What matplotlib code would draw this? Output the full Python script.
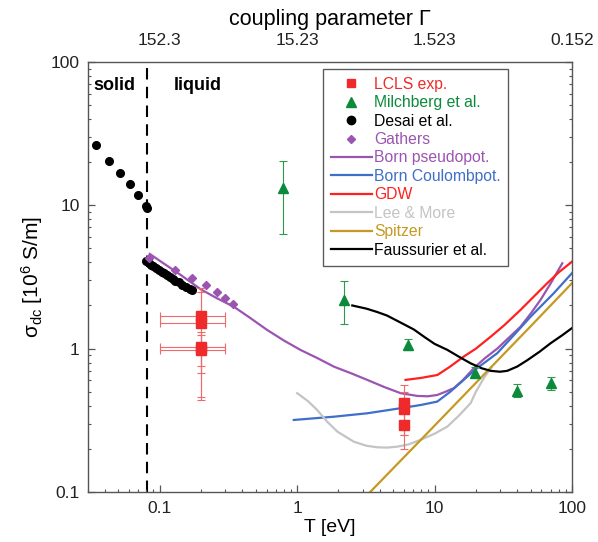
import numpy as np
import matplotlib
matplotlib.use("Agg")
from matplotlib import pyplot as plt
from matplotlib.lines import Line2D
from matplotlib.ticker import FixedLocator, NullFormatter, LogLocator

plt.rcParams['font.family'] = ['Liberation Sans', 'DejaVu Sans']
plt.rcParams['mathtext.fontset'] = 'custom'
plt.rcParams['mathtext.rm'] = 'Liberation Sans'
plt.rcParams['mathtext.it'] = 'Liberation Sans:italic'

# ---- data (T in eV, sigma in 10^6 S/m) ----
desai_T = [0.0344, 0.043, 0.0518, 0.0605, 0.0692, 0.0791, 0.081,
           0.080, 0.083, 0.087, 0.090, 0.094, 0.098, 0.103, 0.108, 0.113,
           0.118, 0.124, 0.130, 0.137, 0.145, 0.155, 0.165, 0.172]
desai_s = [26.4, 20.4, 16.8, 14.0, 11.8, 9.9, 9.6,
           4.09, 3.95, 3.85, 3.75, 3.63, 3.55, 3.45, 3.35, 3.25,
           3.15, 3.06, 2.98, 2.90, 2.80, 2.70, 2.62, 2.56]

gathers_T = [0.0832, 0.1286, 0.173, 0.216, 0.259, 0.301, 0.342]
gathers_s = [4.32, 3.56, 3.13, 2.77, 2.48, 2.24, 2.06]

lcls_T = [0.2, 0.2, 0.2, 0.2, 6.0, 6.0, 6.0]
lcls_s = [1.68, 1.52, 1.02, 0.98, 0.416, 0.378, 0.294]
lcls_lo = [0.46, 0.44, 0.76, 0.68, 0.25, 0.25, 0.199]
lcls_hi = [2.64, 2.50, 1.30, 1.25, 0.557, 0.50, 0.38]
lcls_Tlo = [0.1, 0.1, 0.1, 0.1, 6.0, 6.0, 6.0]
lcls_Thi = [0.3, 0.3, 0.3, 0.3, 6.0, 6.0, 6.0]

milch_T = [0.786, 2.21, 6.39, 19.6, 40.0, 70.0]
milch_s = [13.2, 2.19, 1.06, 0.68, 0.509, 0.573]
milch_lo = [6.28, 1.48, 0.98, 0.638, 0.463, 0.515]
milch_hi = [20.4, 2.94, 1.17, 0.749, 0.567, 0.63]

born_pseudo_T = [0.0846, 0.1, 0.14, 0.198, 0.26, 0.346, 0.45, 0.605, 0.8, 1.058,
                 1.4, 1.85, 2.5, 3.24, 4.3, 5.66, 7.48, 8.9, 10.46, 12.0, 13.8,
                 16.0, 19.3, 23.0, 28.6, 35.0, 42.2, 50.0, 59.1, 70.0, 85.1]
born_pseudo_s = [4.58, 4.1, 3.3, 2.60, 2.25, 1.96, 1.65, 1.35, 1.14, 0.979,
                 0.86, 0.749, 0.67, 0.605, 0.54, 0.489, 0.468, 0.465, 0.475, 0.50, 0.53,
                 0.60, 0.73, 0.85, 1.0, 1.2, 1.42, 1.75, 2.19, 2.85, 3.94]

born_coul_T = [0.945, 1.85, 3.24, 5.66, 8.0, 10.46, 13.0, 16.3, 20.0, 28.6,
               38.0, 50.0, 73.9, 100]
born_coul_s = [0.318, 0.335, 0.354, 0.384, 0.405, 0.427, 0.50, 0.605, 0.72, 0.929,
               1.25, 1.67, 2.44, 3.36]

gdw_T = [6.15, 8.0, 10.5, 13.0, 16.3, 20.0, 25.6, 32.0, 42.2, 55.0, 66.1, 80.0, 100]
gdw_s = [0.605, 0.625, 0.655, 0.75, 0.88, 1.0, 1.21, 1.45, 1.86, 2.4, 2.86, 3.4, 4.04]

lee_T = [1.0, 1.2, 1.4, 1.65, 1.96, 2.3, 2.59, 3.2, 3.83, 4.5, 5.35, 6.5,
         7.9, 10.0, 12.4, 15.0, 18.3, 20.0, 23.0, 26.0]
lee_s = [0.489, 0.43, 0.373, 0.31, 0.264, 0.24, 0.224, 0.21, 0.205, 0.204, 0.207, 0.215,
         0.231, 0.255, 0.286, 0.34, 0.416, 0.50, 0.63, 0.74]

spitzer_T = [3.3, 6.0, 10.0, 20.0, 50.0, 100]
spitzer_s = [0.097, 0.175, 0.29, 0.577, 1.43, 2.86]

fauss_T = [2.52, 3.2, 3.83, 4.52, 5.66, 7.07, 8.5, 10.0, 12.4, 15.0, 18.3, 22.0,
           25.6, 30.0, 33.8, 40.0, 47.3, 58.0, 69.9, 85.0, 100]
fauss_s = [2.0, 1.9, 1.80, 1.70, 1.52, 1.36, 1.2, 1.08, 0.98, 0.88, 0.79, 0.73,
           0.70, 0.69, 0.70, 0.75, 0.83, 0.95, 1.09, 1.24, 1.39]

T_melt = 0.081
major_T = [0.1, 1, 10, 100]
top_labels = ['152.3', '15.23', '1.523', '0.152']

# ---- colours ----
c_red = '#ee2a2a'
c_err = '#f06a6a'
c_green = '#0b8a3c'
c_purple = '#9b55b0'
c_blue = '#3f6fc8'
c_gdw = '#ff2020'
c_gray = '#c4c4c4'
c_gold = '#c49a22'
c_spine = '#555555'

fig = plt.figure(figsize=(5.98, 5.42), dpi=100)
ax = fig.add_axes([0.147, 0.0923, 0.8094, 0.7934])
ax.set_xscale('log')
ax.set_yscale('log')
ax.set_xlim(0.03, 100)
ax.set_ylim(0.1, 100)

ax.axvline(T_melt, color='black', lw=1.5, ls=(0, (5.5, 3.5)), zorder=1)

# model curves
lw = 1.6
ax.plot(born_pseudo_T, born_pseudo_s, color=c_purple, lw=lw)
ax.plot(born_coul_T, born_coul_s, color=c_blue, lw=lw)
ax.plot(gdw_T, gdw_s, color=c_gdw, lw=lw)
ax.plot(lee_T, lee_s, color=c_gray, lw=lw)
ax.plot(spitzer_T, spitzer_s, color=c_gold, lw=lw)
ax.plot(fauss_T, fauss_s, color='black', lw=lw)

# data points
lcls_s_arr = np.array(lcls_s)
lcls_T_arr = np.array(lcls_T)
ax.errorbar(lcls_T, lcls_s,
            yerr=[lcls_s_arr - np.array(lcls_lo), np.array(lcls_hi) - lcls_s_arr],
            xerr=[lcls_T_arr - np.array(lcls_Tlo), np.array(lcls_Thi) - lcls_T_arr],
            fmt='s', color=c_red, ecolor=c_err, elinewidth=0.8, capsize=3,
            capthick=0.8, ms=6.5, zorder=5)
milch_s_arr = np.array(milch_s)
ax.errorbar(milch_T, milch_s,
            yerr=[milch_s_arr - np.array(milch_lo), np.array(milch_hi) - milch_s_arr],
            fmt='^', color=c_green, ecolor='#2a9a4c', elinewidth=0.8, capsize=3,
            capthick=0.8, ms=7.5, zorder=5)
ax.plot(desai_T, desai_s, 'o', color='black', ms=5.5, zorder=4)
ax.plot(gathers_T, gathers_s, 'D', color=c_purple, ms=4.2, zorder=4)

# axes cosmetics
for sp in ax.spines.values():
    sp.set_color(c_spine)
    sp.set_linewidth(1.0)
ax.xaxis.set_major_locator(FixedLocator(major_T))
ax.set_xticklabels(['0.1', '1', '10', '100'])
ax.yaxis.set_major_locator(FixedLocator([0.1, 1, 10, 100]))
ax.set_yticklabels(['0.1', '1', '10', '100'])
ax.xaxis.set_minor_locator(LogLocator(base=10, subs=np.arange(2, 10)))
ax.yaxis.set_minor_locator(LogLocator(base=10, subs=np.arange(2, 10)))
ax.xaxis.set_minor_formatter(NullFormatter())
ax.yaxis.set_minor_formatter(NullFormatter())
ax.tick_params(which='both', direction='in', top=True, right=True,
               color=c_spine, labelsize=12.5, labelcolor='#222222')
ax.tick_params(which='major', length=5, width=0.9, pad=6.5)
ax.tick_params(which='minor', length=2.5, width=0.8)
ax.tick_params(axis='y', pad=6)

ax2 = ax.twiny()
ax2.set_xscale('log')
ax2.set_xlim(ax.get_xlim())
ax2.xaxis.set_major_locator(FixedLocator(major_T))
ax2.set_xticklabels(top_labels)
ax2.xaxis.set_minor_locator(LogLocator(base=10, subs=np.arange(2, 10)))
ax2.xaxis.set_minor_formatter(NullFormatter())
ax2.tick_params(which='both', direction='in', length=0, labelsize=12.5,
                labelcolor='#222222', pad=10)
for sp in ax2.spines.values():
    sp.set_visible(False)

ax.set_xlabel('T [eV]', fontsize=14, labelpad=2)
ax.set_ylabel(r'σ$_{\rm dc}$ [10$^{6}$ S/m]', fontsize=15, labelpad=4)
ax2.set_xlabel('coupling parameter Γ', fontsize=15.5, labelpad=6)

ax.text(0.033, 68, 'solid', fontsize=13, fontweight='bold', va='center', ha='left')
ax.text(0.1258, 68, 'liquid', fontsize=13, fontweight='bold', va='center', ha='left')

# legend
handles = [
    Line2D([], [], ls='none', marker='s', color=c_red, ms=6),
    Line2D([], [], ls='none', marker='^', color=c_green, ms=7),
    Line2D([], [], ls='none', marker='o', color='black', ms=6),
    Line2D([], [], ls='none', marker='D', color=c_purple, ms=4.2),
    Line2D([], [], color=c_purple, lw=lw),
    Line2D([], [], color=c_blue, lw=lw),
    Line2D([], [], color=c_gdw, lw=lw),
    Line2D([], [], color=c_gray, lw=lw),
    Line2D([], [], color=c_gold, lw=lw),
    Line2D([], [], color='black', lw=lw),
]
labels = ['LCLS exp.', 'Milchberg et al.', 'Desai et al.', 'Gathers',
          'Born pseudopot.', 'Born Coulombpot.', 'GDW', 'Lee & More',
          'Spitzer', 'Faussurier et al.']
leg = ax.legend(handles, labels, loc='upper left',
                bbox_to_anchor=(0.4855, 0.984), borderaxespad=0, fontsize=11.3,
                frameon=True, fancybox=False, edgecolor='#333333',
                handlelength=2.6, handletextpad=0.15, labelspacing=0.22,
                borderpad=0.5, numpoints=1)
leg.get_frame().set_linewidth(1.0)
text_colors = [c_red, c_green, 'black', c_purple, c_purple, c_blue, c_gdw,
               c_gray, c_gold, 'black']
for t, c in zip(leg.get_texts(), text_colors):
    t.set_color(c)

fig.savefig('out.png', dpi=100)
